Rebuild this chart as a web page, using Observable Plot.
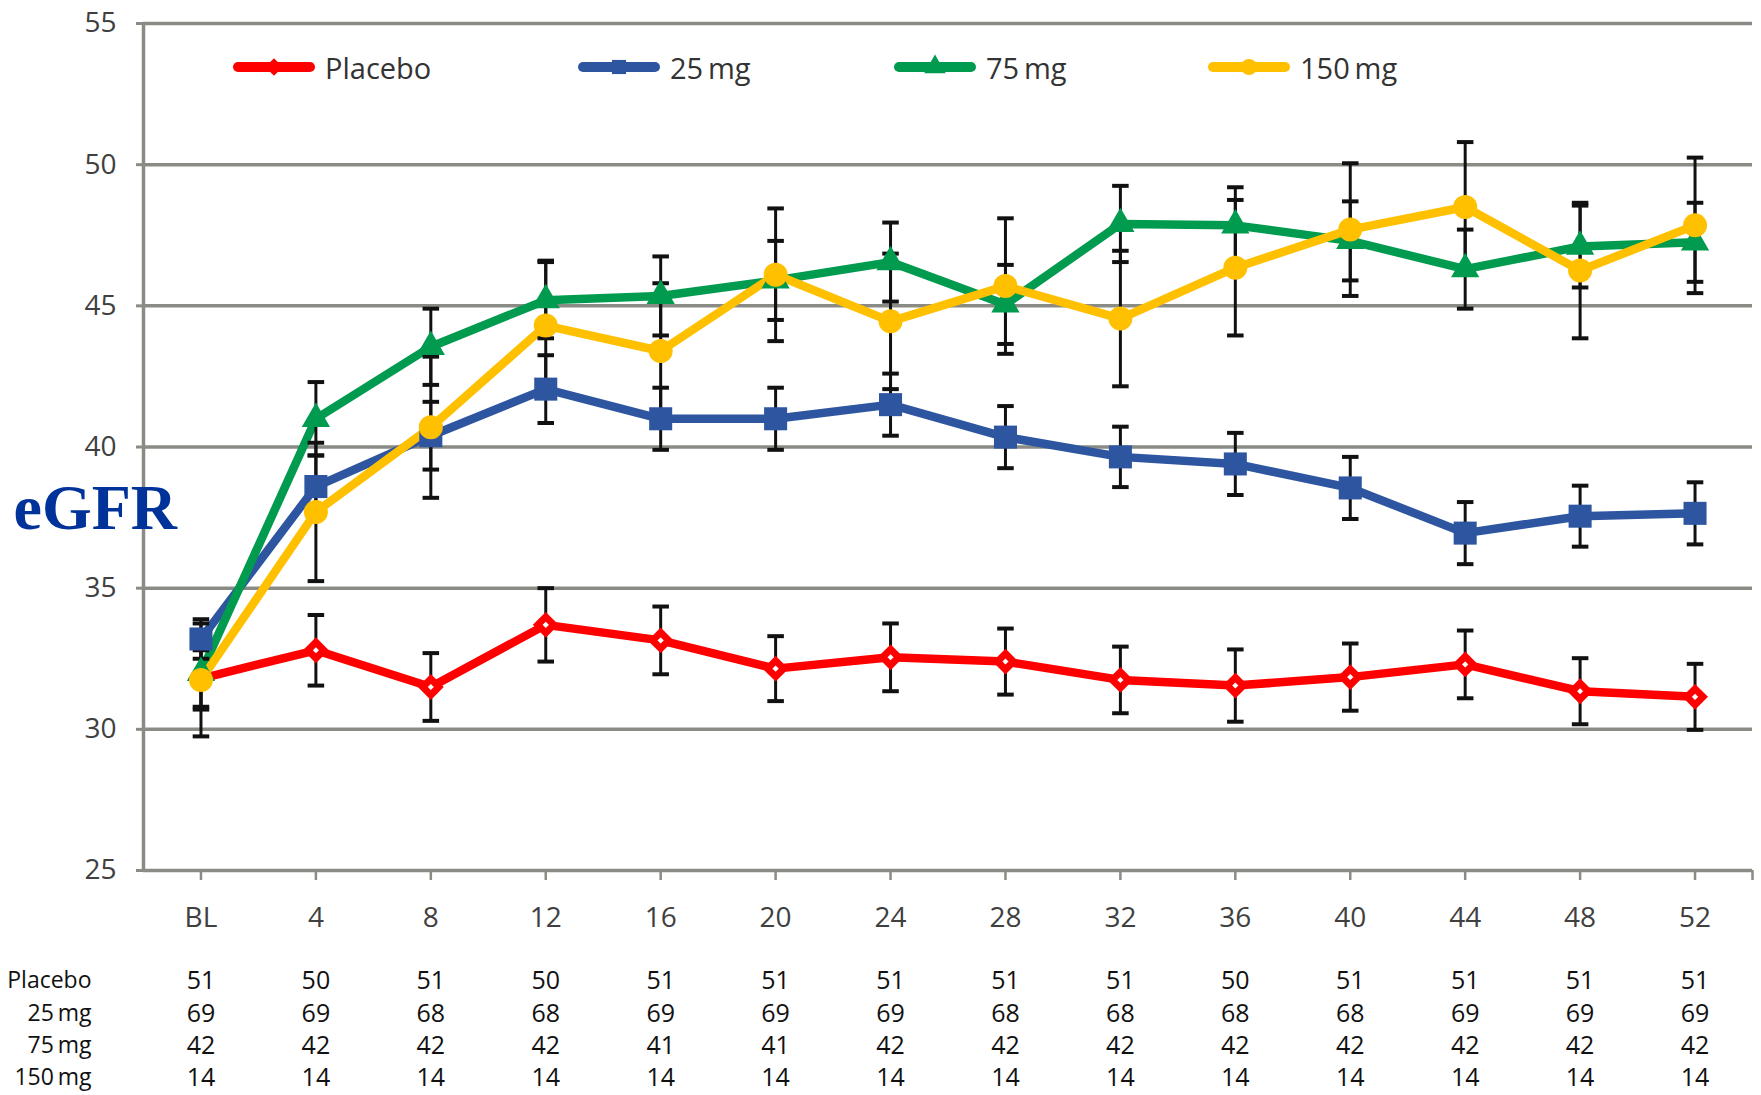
<!DOCTYPE html>
<html><head><meta charset="utf-8">
<script src="https://cdn.jsdelivr.net/npm/d3@7"></script>
<script src="https://cdn.jsdelivr.net/npm/@observablehq/plot@0.6"></script>
<style>
html,body{margin:0;padding:0;background:#fff;}
#wrap{position:relative;width:1761px;height:1095px;overflow:hidden;background:#fff;}
.item{position:absolute;top:47px;height:40px;display:flex;align-items:center;font-family:"Open Sans",sans-serif;font-size:29px;color:#333;white-space:nowrap;}
.item span{margin-left:10px;}
</style></head><body><div id="wrap"></div>
<script>
// ---- data ----
const weeks = ["BL","4","8","12","16","20","24","28","32","36","40","44","48","52"];
const seriesNames = ["Placebo","25\u2009mg","75\u2009mg","150\u2009mg"];
const placebo   = [31.8, 32.8, 31.5, 33.7, 33.15, 32.15, 32.55, 32.4, 31.75, 31.55, 31.85, 32.3, 31.35, 31.15];
const placeboSE = [1.0, 1.25, 1.2, 1.3, 1.2, 1.15, 1.2, 1.17, 1.18, 1.28, 1.19, 1.2, 1.17, 1.17];
const mg25      = [33.2, 38.6, 40.4, 42.05, 41.0, 41.0, 41.5, 40.35, 39.65, 39.4, 38.55, 36.95, 37.55, 37.65];
const mg25SE    = [0.7, 1.1, 1.2, 1.2, 1.1, 1.1, 1.1, 1.1, 1.07, 1.1, 1.1, 1.1, 1.08, 1.1];
const mg75      = [32.0, 41.0, 43.55, 45.2, 45.35, 45.9, 46.55, 45.05, 47.9, 47.85, 47.3, 46.3, 47.1, 47.25];
const mg75SE    = [1.3, 1.3, 1.35, 1.35, 1.4, 1.4, 1.4, 1.4, 1.35, 1.35, 1.4, 1.4, 1.45, 1.4];
const mg150     = [31.75, 37.7, 40.7, 44.3, 43.4, 46.1, 44.45, 45.7, 44.55, 46.35, 47.7, 48.5, 46.25, 47.85];
const mg150SE   = [2.0, 2.45, 2.5, 2.3, 2.4, 2.35, 2.4, 2.4, 2.4, 2.4, 2.35, 2.3, 2.4, 2.4];
const nPlacebo  = [51,50,51,50,51,51,51,51,51,50,51,51,51,51];
const n25       = [69,69,68,68,69,69,69,68,68,68,68,69,69,69];
const n75       = [42,42,42,42,41,41,42,42,42,42,42,42,42,42];
const n150      = [14,14,14,14,14,14,14,14,14,14,14,14,14,14];
const tableLabels = ["Placebo","25\u2009mg","75\u2009mg","150\u2009mg"];
const yTicks = [25,30,35,40,45,50,55];

// ---- styling ----
const colors = ["#FF0000","#2E56A0","#009B4E","#FFC000"];
const symbols = ["diamond2","square","triangle","circle"];
const d3symbols = [d3.symbolDiamond2, d3.symbolSquare, d3.symbolTriangle, d3.symbolCircle];
const radii = [7.2, 13, 10.5, 12];
const gridColor = "#8b8b85";

const values = [placebo, mg25, mg75, mg150];
const ses = [placeboSE, mg25SE, mg75SE, mg150SE];
const counts = [nPlacebo, n25, n75, n150];

const rows = values.map((vals, s) => vals.map((v, i) => ({
  s, i, v, lo: v - ses[s][i], hi: v + ses[s][i]
})));
const xDomain = [-0.5, weeks.length - 0.5];
const capHalf = 0.072;

const marks = [
  Plot.ruleY(yTicks.slice(1), {stroke: gridColor, strokeWidth: 3.5}),
  Plot.axisY({ticks: yTicks, tickSize: 7, tickPadding: 20, stroke: gridColor, strokeWidth: 3, label: null, fontSize: 28}),
  Plot.axisX({ticks: [...weeks.map((_, i) => i), xDomain[1]], tickFormat: t => weeks[t] ?? "",
    tickSize: 10, tickPadding: 27, stroke: gridColor, strokeWidth: 2.5, label: null, fontSize: 28}),
  Plot.ruleX([xDomain[0]], {stroke: gridColor, strokeWidth: 3.5}),
  Plot.ruleY([yTicks[0]], {stroke: gridColor, strokeWidth: 3.5}),
];
rows.forEach((r, s) => marks.push(Plot.line(r, {x: "i", y: "v", stroke: colors[s], strokeWidth: 8.5, strokeLinejoin: "round"})));
rows.forEach((r) => {
  marks.push(Plot.ruleX(r, {x: "i", y1: "lo", y2: "hi", stroke: "#111", strokeWidth: 3}));
  marks.push(Plot.link(r, {x1: d => d.i - capHalf, x2: d => d.i + capHalf, y1: "hi", y2: "hi", stroke: "#111", strokeWidth: 4}));
  marks.push(Plot.link(r, {x1: d => d.i - capHalf, x2: d => d.i + capHalf, y1: "lo", y2: "lo", stroke: "#111", strokeWidth: 4}));
});
rows.forEach((r, s) => {
  if (s === 0) marks.push(Plot.dot(r, {x: "i", y: "v", symbol: symbols[s], r: radii[s], fill: "white", stroke: colors[s], strokeWidth: 7}));
  else marks.push(Plot.dot(r, {x: "i", y: "v", symbol: symbols[s], r: radii[s], fill: colors[s]}));
});
// numbers-at-risk table
const rowDy = [110, 143, 175, 207];
counts.forEach((c, k) => {
  marks.push(Plot.text(c.map((n, i) => ({i, n})), {x: "i", text: "n", frameAnchor: "bottom", lineAnchor: "middle", dy: rowDy[k], fontSize: 25, fill: "#111"}));
  marks.push(Plot.text([tableLabels[k]], {frameAnchor: "bottom-left", lineAnchor: "middle", dx: -52, dy: rowDy[k], textAnchor: "end", fontSize: 23, fill: "#111"}));
});
marks.push(Plot.text(["eGFR"], {frameAnchor: "top-left", lineAnchor: "middle", dx: -130, dy: 485.5, textAnchor: "start",
  fontFamily: "'Liberation Serif','Times New Roman',serif", fontWeight: "bold", fontSize: 64, fill: "#003399"}));

const chart = Plot.plot({
  width: 1761, height: 1095,
  marginLeft: 143, marginRight: 9, marginTop: 23, marginBottom: 225,
  style: {fontFamily: "'Open Sans', sans-serif", fontSize: "27px", color: "#404040", background: "white", overflow: "visible"},
  x: {type: "linear", domain: xDomain},
  y: {domain: [yTicks[0], yTicks[yTicks.length - 1]]},
  marks
});
const wrap = document.getElementById("wrap");
wrap.appendChild(chart);

// legend (inside plot area, overlay)
const legendLeft = [233, 578, 894, 1208];
seriesNames.forEach((name, k) => {
  const item = document.createElement("div");
  item.className = "item";
  item.style.left = legendLeft[k] + "px";
  const svg = d3.create("svg").attr("width", 82).attr("height", 26);
  svg.append("line").attr("x1", 5).attr("x2", 77).attr("y1", 13).attr("y2", 13)
    .attr("stroke", colors[k]).attr("stroke-width", 10).attr("stroke-linecap", "round");
  svg.append("path").attr("d", d3.symbol(d3symbols[k], 200)()).attr("transform", "translate(41,13)").attr("fill", colors[k]);
  item.appendChild(svg.node());
  const span = document.createElement("span");
  span.textContent = name;
  item.appendChild(span);
  wrap.appendChild(item);
});
</script></body></html>
